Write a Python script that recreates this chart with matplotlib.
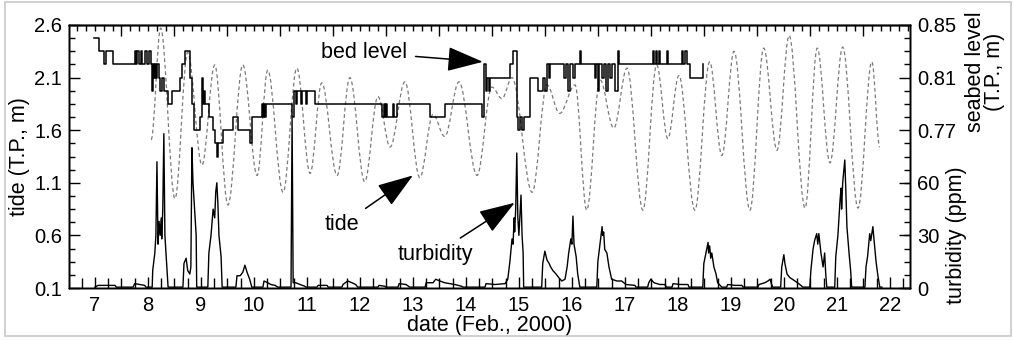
import matplotlib
matplotlib.use("Agg")
import matplotlib.pyplot as plt
from matplotlib.path import Path
from matplotlib.patches import PathPatch, Rectangle
from matplotlib.ticker import MultipleLocator, FixedLocator, FormatStrFormatter, NullLocator

plt.rcParams['font.family'] = ['Liberation Sans', 'DejaVu Sans']

# tide: high / low waters (day of Feb. 2000, T.P. m)
tide_day = [8.06, 8.24, 8.51, 8.75, 9.02, 9.26, 9.51, 9.79, 10.06, 10.26,
            10.55, 10.81, 11.06, 11.28, 11.57, 11.81, 12.09, 12.34, 12.57,
            12.85, 13.13, 13.38, 13.60, 13.87, 14.21, 14.49, 14.68, 14.87,
            15.25, 15.53, 15.77, 16.06, 16.28, 16.53, 16.79, 17.04, 17.34,
            17.60, 17.81, 18.02, 18.32, 18.60, 18.83, 19.06, 19.36, 19.62,
            19.87, 20.10, 20.40, 20.63, 20.87, 21.11, 21.40, 21.66, 21.81]
tide_level = [1.51, 2.57, 0.95, 2.34, 1.27, 2.22, 0.89, 2.22, 1.17, 2.17,
              1.01, 2.19, 1.19, 2.05, 1.17, 2.10, 1.11, 1.92, 1.44,
              2.06, 1.15, 1.75, 1.54, 2.06, 1.17, 2.01, 1.90, 2.10,
              1.01, 2.03, 1.76, 2.03, 0.84, 2.08, 1.62, 2.19, 0.84,
              2.22, 1.52, 2.12, 0.84, 2.25, 1.36, 2.35, 0.84, 2.38,
              1.41, 2.50, 0.86, 2.38, 1.29, 2.39, 0.86, 2.25, 1.44]

# seabed level (T.P., m), step record
bed_day = [6.98, 7.08, 7.17, 7.21, 7.34, 7.75, 7.77, 7.79, 7.83, 7.86, 7.89,
           7.94, 7.98, 8.02, 8.06, 8.08, 8.10, 8.12, 8.14, 8.16, 8.18, 8.20,
           8.23, 8.27, 8.30, 8.38, 8.45, 8.60, 8.64, 8.70, 8.80, 8.83, 8.87,
           8.98, 9.02, 9.04, 9.06, 9.08, 9.15, 9.23, 9.26, 9.31, 9.33, 9.42,
           9.60, 9.70, 9.92, 9.96, 10.15, 10.17, 10.19, 10.21, 10.23, 10.72,
           10.75, 10.80, 10.82, 10.88, 10.90, 10.98, 11.00, 11.15, 12.42,
           12.45, 12.47, 12.50, 12.52, 12.62, 12.64, 12.70, 13.32, 13.60,
           14.30, 14.34, 14.37, 14.40, 14.43, 14.46, 14.83, 14.89, 14.96,
           14.99, 15.02, 15.05, 15.10, 15.21, 15.36, 15.45, 15.50, 15.53,
           15.56, 15.58, 15.86, 15.89, 15.93, 15.96, 16.02, 16.05, 16.15,
           16.17, 16.43, 16.46, 16.49, 16.52, 16.56, 16.60, 16.64, 16.68,
           16.72, 16.76, 16.81, 16.87, 16.89, 17.53, 17.55, 17.58, 17.61,
           17.64, 17.66, 17.80, 17.82, 18.08, 18.10, 18.13, 18.17, 18.23,
           18.47]
bed_level = [0.84, 0.83, 0.82, 0.83, 0.82, 0.83, 0.82, 0.83, 0.82, 0.83, 0.82,
             0.83, 0.82, 0.83, 0.82, 0.80, 0.82, 0.81, 0.82, 0.81, 0.82, 0.81,
             0.80, 0.81, 0.80, 0.79, 0.80, 0.81, 0.82, 0.83, 0.81, 0.79, 0.77,
             0.78, 0.81, 0.79, 0.80, 0.79, 0.78, 0.77, 0.76, 0.75, 0.76, 0.77,
             0.78, 0.77, 0.76, 0.78, 0.79, 0.78, 0.79, 0.78, 0.79, 0.78,
             0.80, 0.79, 0.80, 0.79, 0.80, 0.79, 0.80, 0.79, 0.78,
             0.79, 0.78, 0.79, 0.78, 0.79, 0.78, 0.79, 0.78, 0.79,
             0.78, 0.82, 0.80, 0.81, 0.80, 0.81, 0.82, 0.83, 0.78,
             0.77, 0.78, 0.77, 0.78, 0.81, 0.80, 0.81, 0.80, 0.82,
             0.81, 0.82, 0.81, 0.82, 0.80, 0.82, 0.81, 0.82, 0.83,
             0.82, 0.81, 0.82, 0.80, 0.82, 0.81, 0.82, 0.80, 0.82,
             0.81, 0.82, 0.80, 0.83, 0.82, 0.83, 0.82, 0.83, 0.82,
             0.83, 0.82, 0.83, 0.82, 0.83, 0.82, 0.83, 0.82, 0.81,
             0.82]

# turbidity (ppm)
turb_day = [7.00, 7.06, 7.38, 7.40, 7.72, 7.75, 7.85, 7.94, 7.96, 8.08, 8.09,
            8.13, 8.15, 8.17, 8.19, 8.21, 8.23, 8.25, 8.26, 8.28, 8.30, 8.32,
            8.34, 8.36, 8.38, 8.66, 8.68, 8.72, 8.75, 8.79, 8.81, 8.83, 8.85,
            8.87, 8.89, 8.91, 8.92, 9.13, 9.15, 9.19, 9.23, 9.26, 9.28, 9.30,
            9.32, 9.34, 9.38, 9.40, 9.66, 9.68, 9.74, 9.79, 9.83, 9.87, 9.92,
            9.96, 10.17, 10.19, 10.26, 10.32, 10.40, 10.45, 10.70, 10.72,
            10.74, 10.79, 10.87, 10.96, 10.98, 11.19, 11.21, 11.38, 11.40,
            11.66, 11.68, 11.77, 11.85, 11.92, 11.96, 12.34, 12.36, 12.47,
            12.49, 12.72, 12.74, 12.87, 12.94, 13.23, 13.25, 13.38, 13.43,
            13.51, 13.60, 13.79, 13.92, 13.94, 14.36, 14.38, 14.55, 14.74,
            14.79, 14.83, 14.87, 14.89, 14.91, 14.92, 14.94, 14.96, 14.98,
            15.00, 15.02, 15.04, 15.06, 15.08, 15.09, 15.43, 15.45, 15.49,
            15.53, 15.57, 15.60, 15.64, 15.70, 15.75, 15.81, 15.87, 15.91,
            15.94, 15.98, 16.00, 16.02, 16.04, 16.08, 16.11, 16.15, 16.47,
            16.49, 16.53, 16.57, 16.58, 16.60, 16.62, 16.66, 16.70, 16.75,
            16.85, 16.94, 17.02, 17.19, 17.21, 17.43, 17.45, 17.49, 17.55,
            17.66, 17.75, 17.79, 17.89, 17.91, 18.04, 18.19, 18.21, 18.47,
            18.49, 18.53, 18.57, 18.58, 18.60, 18.62, 18.64, 18.68, 18.72,
            18.75, 18.83, 18.92, 18.94, 19.08, 19.21, 19.23, 19.51, 19.53,
            19.64, 19.70, 19.74, 19.77, 19.79, 19.94, 19.96, 20.00, 20.02,
            20.06, 20.11, 20.21, 20.30, 20.36, 20.49, 20.51, 20.55, 20.58,
            20.62, 20.64, 20.66, 20.70, 20.74, 20.77, 20.79, 20.81, 20.96,
            20.98, 21.02, 21.06, 21.08, 21.09, 21.11, 21.15, 21.17, 21.19,
            21.23, 21.26, 21.28, 21.53, 21.55, 21.58, 21.62, 21.64, 21.68,
            21.70, 21.74, 21.77, 21.81, 21.85]
turb_ppm = [0.5, 1.5, 1.5, 0.5, 0.5, 2.5, 2.0, 1.5, 0.5, 0.5, 10,
            20, 30, 72, 25, 38, 30, 40, 28, 45, 88, 30,
            20, 10, 0.5, 0.5, 14, 17, 10, 8, 12, 80, 60,
            50, 40, 30, 0.5, 0.5, 20, 30, 45, 40, 55, 60,
            48, 30, 18, 0.5, 0.5, 7, 7, 9, 13, 9, 5,
            0.5, 0.5, 4, 3, 2, 1.5, 0.5, 0.5, 97,
            3, 3, 2, 1, 0.5, 0.5, 1.5, 1.5, 0.5,
            0.5, 2, 4, 3, 2, 0.5, 0.5, 1.5, 1,
            0.5, 0.5, 2.5, 2, 0.5, 0.5, 3, 3, 5,
            4, 3, 2, 1, 0.5, 0.5, 2.5, 2, 2.5,
            5, 15, 28, 25, 40, 32, 45, 77, 40,
            30, 42, 53, 30, 20, 0.5, 0.5, 14, 21,
            16, 14, 12, 10, 8, 6, 4, 5, 12,
            20, 28, 25, 41, 25, 18, 8, 0.5, 0.5,
            15, 25, 35, 30, 32, 22, 20, 12, 5,
            4, 4, 2, 1.5, 0.5, 0.5, 3, 5, 3,
            2, 2, 0.5, 0.5, 2.5, 2, 2, 0.5, 0.5,
            14, 20, 26, 20, 24, 17, 20, 12, 8,
            3, 0.5, 0.5, 2, 1.5, 1.5, 0.5, 0.5, 2,
            3, 4, 5, 2, 0.5, 0.5, 12, 19, 14,
            8, 6, 4, 2, 0.5, 0.5, 10, 22, 27,
            31, 25, 31, 20, 12, 20, 8, 0.5, 0.5,
            18, 30, 50, 57, 45, 60, 73, 55, 35,
            20, 10, 0.5, 0.5, 12, 18, 31, 27, 35,
            28, 15, 8, 0.5, 0.5]

days = list(range(7, 23))
tide_ticks = [0.1, 0.6, 1.1, 1.6, 2.1, 2.6]
bed_ticks = [0.77, 0.81, 0.85]
turb_ticks = [0, 30, 60]

fig = plt.figure(figsize=(10.13, 3.41), dpi=100)
ax = fig.add_axes([0.0681, 0.1554, 0.8302, 0.7713])
ax.set_xlim(6.51, 22.38)
ax.set_ylim(0.1, 2.6)

# tide drawn as smooth curve through the extremes (horizontal tangents)
verts = [(tide_day[0], tide_level[0])]
codes = [Path.MOVETO]
for i in range(1, len(tide_day)):
    dt = tide_day[i] - tide_day[i - 1]
    verts += [(tide_day[i - 1] + 0.36 * dt, tide_level[i - 1]),
              (tide_day[i] - 0.36 * dt, tide_level[i]),
              (tide_day[i], tide_level[i])]
    codes += [Path.CURVE4] * 3
ax.add_patch(PathPatch(Path(verts, codes), fill=False, edgecolor="#7a7a7a",
                       linewidth=0.9, linestyle=(0, (3.0, 2.2)),
                       transform=ax.transData))

ax_bed = ax.twinx()
ax_bed.set_ylim(0.65, 0.85)
ax_bed.plot(bed_day, bed_level, color="black", linewidth=1.1,
            drawstyle="steps-post")

ax_turb = ax.twinx()
ax_turb.set_ylim(0, 150)
ax_turb.plot(turb_day, turb_ppm, color="black", linewidth=1.0)

# ticks
fs = 14.5
ax.xaxis.set_major_locator(FixedLocator(days))
ax.xaxis.set_minor_locator(MultipleLocator(0.25))
ax.yaxis.set_major_locator(FixedLocator(tide_ticks))
ax.yaxis.set_minor_locator(MultipleLocator(0.125, offset=0.1))
ax.yaxis.set_major_formatter(FormatStrFormatter("%.1f"))
ax.tick_params(axis="both", which="both", direction="in", labelsize=fs)
ax.tick_params(axis="x", which="major", length=8, width=1, pad=6)
ax.tick_params(axis="x", which="minor", length=7, width=1)
ax.tick_params(axis="y", which="major", length=8, width=1, pad=5)
ax.tick_params(axis="y", which="minor", length=4, width=1)

top = ax.secondary_xaxis("top")
top.xaxis.set_major_locator(MultipleLocator(1, offset=0.5))
top.xaxis.set_minor_locator(MultipleLocator(1 / 6))
top.tick_params(which="both", direction="in", labeltop=False, width=1)
top.tick_params(which="major", length=8)
top.tick_params(which="minor", length=4)

ax_bed.yaxis.set_major_locator(FixedLocator(bed_ticks))
ax_bed.yaxis.set_minor_locator(MultipleLocator(0.01))
ax_bed.yaxis.set_major_formatter(FormatStrFormatter("%.2f"))
ax_bed.tick_params(axis="y", which="both", direction="in", labelsize=fs,
                   width=1, pad=5)
ax_bed.tick_params(axis="y", which="major", length=8)
ax_bed.tick_params(axis="y", which="minor", length=4)

ax_turb.yaxis.set_major_locator(FixedLocator(turb_ticks))
ax_turb.yaxis.set_minor_locator(NullLocator())
ax_turb.tick_params(axis="y", direction="in", length=8, width=1,
                    labelsize=fs, pad=5)
for a in (ax, ax_bed, ax_turb, top):
    for s in a.spines.values():
        s.set_linewidth(1.0)

ax.set_xlabel("date (Feb., 2000)", fontsize=15.5, labelpad=0)
ax.set_ylabel("tide (T.P., m)", fontsize=15.5, labelpad=3)
fig.text(0.9725, 0.79, "seabed level\n(T.P., m)", rotation=90, fontsize=15.5,
         ha="center", va="center", linespacing=0.9)
fig.text(0.944, 0.31, "turbidity (ppm)", rotation=90, fontsize=15.5,
         ha="center", va="center")

arrow = dict(arrowstyle="-|>,head_length=1.6,head_width=0.55",
             color="black", lw=1.1, mutation_scale=14, shrinkA=4, shrinkB=0)
ax.annotate("bed level", xy=(14.32, 2.25), xytext=(12.08, 2.34),
            fontsize=15.5, ha="center", va="center", arrowprops=arrow)
ax.annotate("tide", xy=(13.0, 1.17), xytext=(11.66, 0.70),
            fontsize=15.5, ha="center", va="center", arrowprops=arrow)
ax.annotate("turbidity", xy=(14.92, 0.91), xytext=(13.42, 0.42),
            fontsize=15.5, ha="center", va="center", arrowprops=arrow)

fig.patches.append(Rectangle((5 / 1013, 5 / 341), 1006 / 1013, 334 / 341,
                             transform=fig.transFigure, fill=False,
                             edgecolor="#c8c8c8", linewidth=1.2))

fig.savefig("out.png", dpi=100)
